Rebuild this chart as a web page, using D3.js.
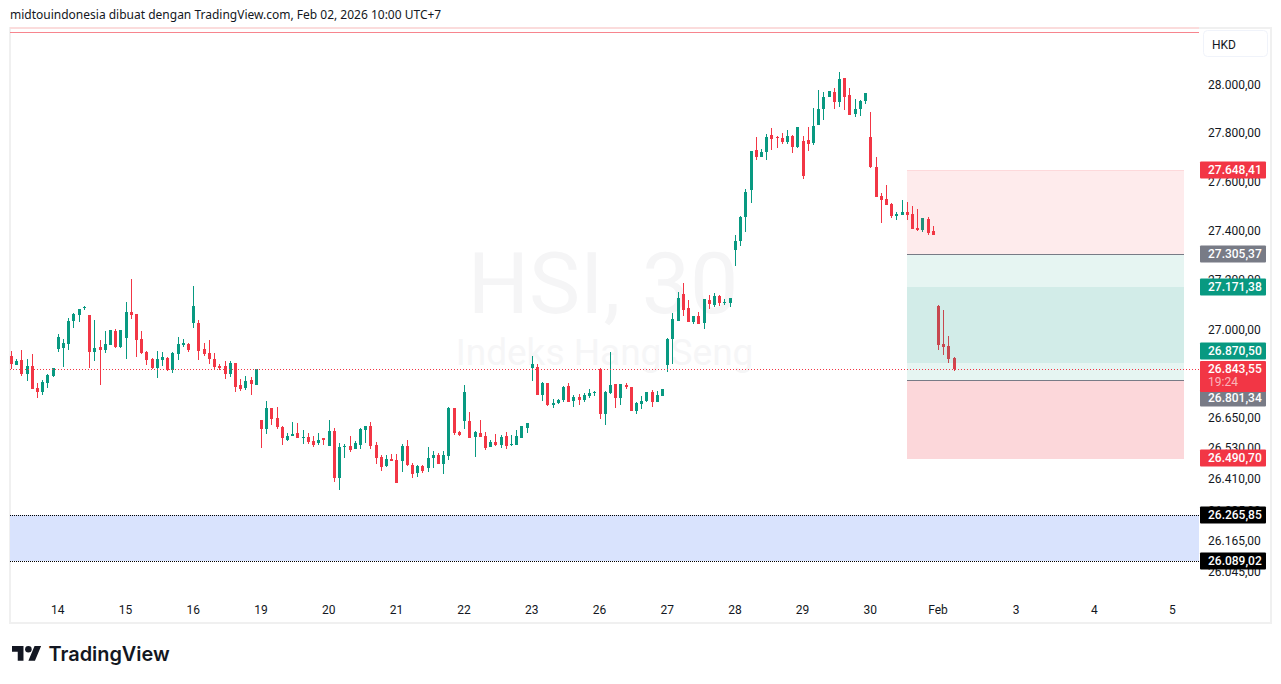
<!DOCTYPE html>
<html><head><meta charset="utf-8">
<script src="https://cdnjs.cloudflare.com/ajax/libs/d3/7.8.5/d3.min.js"></script>
<style>html,body{margin:0;padding:0;background:#fff;overflow:hidden}svg{display:block}text{font-family:Roboto,sans-serif}</style>
</head><body>
<svg id="c" width="1281" height="684"></svg>
<script>
const opens=[26896,26860,26880,26824,26856,26768,26752,26788,26816,26924,
26928,26944,27036,27060,27088,27060,26912,26932,26920,26940,
26996,26932,26968,27072,27064,26964,26912,26884,26848,26880,
26888,26840,26904,26940,26944,27028,27028,26924,26908,26884,
26856,26856,26824,26868,26780,26768,26800,26780,26640,26604,
26688,26648,26612,26564,26576,26588,26568,26572,26560,26552,
26568,26540,26596,26412,26536,26540,26528,26544,26600,26616,
26544,26496,26458,26488,26484,26480,26540,26462,26434,26458,
26450,26492,26504,26466,26500,26688,26592,26636,26636,26572,
26588,26576,26536,26556,26544,26576,26544,26544,26568,26608,
26848,26852,26740,26788,26700,26708,26720,26776,26716,26732,
26720,26736,26748,26844,26664,26748,26784,26728,26780,26772,
26676,26704,26716,26752,26712,26736,26860,26964,27036,27144,
27088,27032,27056,27028,27120,27100,27136,27108,27108,27322,
27359,27457,27567,27731,27702,27723,27793,27784,27780,27764,
27789,27743,27768,27772,27760,27834,27901,27950,27971,27930,
28029,27958,27880,27901,27934,27784,27661,27542,27530,27509,
27461,27465,27477,27469,27412,27404,27448,27400,27096,26944,
26936,26888];
const highs=[26916,26884,26920,26884,26904,26788,26800,26824,26848,26984,
26964,27048,27068,27084,27096,27060,27040,26960,26996,27000,
27004,27000,27112,27204,27064,26996,26916,26888,26916,26912,
26892,26912,26972,26964,26948,27176,27040,26948,26960,26908,
26864,26876,26876,26868,26804,26816,26812,26844,26640,26716,
26688,26692,26616,26588,26632,26628,26600,26588,26576,26588,
26568,26640,26608,26552,26548,26576,26560,26608,26616,26632,
26556,26504,26504,26508,26508,26548,26564,26472,26462,26462,
26536,26520,26512,26520,26692,26688,26596,26780,26672,26596,
26640,26592,26564,26584,26580,26592,26580,26600,26616,26628,
26896,26864,26792,26788,26724,26724,26776,26788,26740,26744,
26748,26764,26756,26848,26756,26912,26784,26784,26788,26772,
26712,26736,26752,26760,26756,26764,26968,27068,27152,27188,
27120,27056,27072,27124,27140,27148,27140,27124,27128,27383,
27461,27571,27727,27784,27735,27797,27822,27789,27801,27814,
27793,27826,27789,27826,27905,27979,27971,27975,27988,28054,
28029,27988,27942,27938,27967,27888,27702,27555,27587,27514,
27477,27526,27518,27501,27489,27452,27456,27420,27100,27080,
26976,26892];
const lows=[26843,26860,26816,26796,26764,26728,26740,26768,26812,26912,
26852,26920,27008,27032,27080,26848,26876,26780,26908,26940,
26928,26928,26884,27044,26892,26904,26860,26844,26808,26856,
26836,26828,26880,26932,26912,27008,26880,26896,26864,26840,
26840,26804,26812,26752,26756,26760,26740,26780,26532,26584,
26620,26604,26544,26560,26576,26568,26548,26548,26536,26544,
26544,26540,26397,26365,26491,26516,26528,26528,26552,26528,
26466,26442,26454,26480,26393,26438,26458,26412,26418,26434,
26438,26450,26466,26430,26484,26580,26576,26604,26568,26496,
26572,26524,26536,26540,26532,26528,26540,26544,26568,26588,
26796,26740,26716,26696,26688,26704,26712,26712,26692,26700,
26712,26728,26736,26644,26620,26744,26688,26700,26764,26676,
26664,26684,26712,26692,26712,26736,26832,26864,27036,27056,
27032,27024,27024,27004,27084,27092,27096,27100,27092,27258,
27339,27396,27514,27690,27702,27690,27731,27739,27756,27756,
27719,27739,27612,27727,27752,27834,27855,27950,27901,27909,
27897,27876,27867,27872,27921,27657,27538,27432,27505,27452,
27444,27465,27444,27408,27400,27396,27383,27383,26920,26900,
26868,26836];
const closes=[26864,26876,26824,26856,26764,26752,26792,26820,26848,26972,
26948,27036,27064,27084,27092,26912,26928,26920,26944,27000,
26932,27000,27072,27060,26960,26908,26880,26848,26884,26892,
26840,26908,26944,26948,26920,27096,26916,26904,26884,26852,
26848,26824,26868,26772,26764,26796,26784,26844,26604,26688,
26644,26612,26568,26576,26584,26568,26572,26556,26544,26564,
26564,26596,26412,26536,26540,26524,26552,26604,26616,26540,
26492,26454,26488,26480,26393,26540,26462,26430,26458,26442,
26492,26504,26466,26504,26688,26588,26580,26752,26568,26592,
26572,26532,26556,26544,26572,26540,26548,26576,26616,26628,
26864,26740,26788,26700,26708,26720,26772,26712,26732,26720,
26740,26748,26752,26664,26752,26780,26728,26784,26772,26676,
26708,26716,26752,26712,26740,26764,26964,27044,27128,27080,
27032,27056,27024,27124,27104,27136,27108,27112,27128,27359,
27457,27559,27727,27702,27723,27784,27776,27780,27764,27789,
27743,27826,27624,27756,27830,27901,27950,27975,27930,28025,
27950,27876,27901,27934,27967,27661,27538,27526,27505,27461,
27469,27477,27465,27408,27404,27452,27392,27383,26940,26932,
26884,26843.55];

const priceTicks=[28000,27800,27600,27400,27200,27000,26650,26530,26410,26285,26165,26045];
const dayBars=[9,22,35,48,61,74,87,100,113,126,139,152,165,178,193,208,223];
const dayLabels=["14","15","16","19","20","21","22","23","26","27","28","29","30","Feb","3","4","5"];
const targetHigh=27648.41, entryHigh=27305.37, innerHigh=27171.38, innerLow=26870.50, entryLow=26801.34, stopLow=26490.70;
const lastPrice=26843.55, blueTop=26265.85, blueBottom=26089.02, topLinePrice=28221;
const boxFromBar=172, boxToBar=225;
const countdown="19:24";

const RED="#f23645", GREEN="#089981", GREY="#787b86", INK="#131722";
const svg=d3.select("#c");
const y=d3.scaleLog().domain([blueBottom,28000]).range([561,85]);
const x=d3.scaleLinear().domain([0,1]).range([11.5,16.708]);
const idLocale=d3.formatLocale({decimal:",",thousands:".",grouping:[3],currency:["",""]});
const fmt=idLocale.format(",.2f");
const bars=opens.map((o,i)=>({i,o,h:highs[i],l:lows[i],c:closes[i]}));
const ry=v=>Math.round(y(v));
const rl=v=>Math.round(y(v)-0.3);

// pane frame
const LEFT=10, RIGHT=1199;
svg.append("rect").attr("x",10).attr("y",28).attr("width",1261).attr("height",595)
  .attr("fill","#fff").attr("stroke","#f0f0f0").attr("stroke-width",2);

// watermark
svg.append("text").attr("x",603).attr("y",313).attr("text-anchor","middle")
  .style("font-size","86px").attr("fill","#f5f5f6").text("HSI, 30");
svg.append("text").attr("x",604.5).attr("y",365).attr("text-anchor","middle")
  .style("font-size","37px").attr("fill","#f6f6f7").text("Indeks Hang Seng");

// top line
svg.append("rect").attr("x",LEFT).attr("width",RIGHT-LEFT).attr("y",27).attr("height",2).attr("fill","#fbdcdc");
svg.append("rect").attr("x",LEFT).attr("width",RIGHT-LEFT).attr("y",ry(topLinePrice)).attr("height",1).attr("fill","#f7858e");

// blue zone
svg.append("rect").attr("x",LEFT).attr("width",RIGHT-LEFT)
  .attr("y",rl(blueTop)).attr("height",rl(blueBottom)-rl(blueTop)).attr("fill","#d9e3fd");

// candles
const g=svg.append("g").selectAll("g").data(bars).join("g")
  .attr("fill",d=>d.c>=d.o?GREEN:RED);
g.append("rect").attr("x",d=>Math.floor(x(d.i))).attr("width",1)
  .attr("y",d=>ry(d.h)).attr("height",d=>Math.max(1,ry(d.l)-ry(d.h)));
g.append("rect").attr("x",d=>Math.floor(x(d.i))-1).attr("width",3)
  .attr("y",d=>ry(Math.max(d.o,d.c))).attr("height",d=>Math.max(1,ry(Math.min(d.o,d.c))-ry(Math.max(d.o,d.c))));

// position boxes over the candles
const bx0=Math.round(x(boxFromBar)), bx1=Math.ceil(x(boxToBar));
function box(a,b,col,op){
  const t=ry(a), bt=Math.ceil(y(b));
  svg.append("rect").attr("x",bx0).attr("width",bx1-bx0).attr("y",t).attr("height",bt-t)
    .attr("fill",col).attr("fill-opacity",op);
}
box(targetHigh,entryHigh,RED,0.1);
box(entryHigh,entryLow,GREEN,0.1);
box(innerHigh,innerLow,GREEN,0.09);
box(entryLow,stopLow,RED,0.2);
svg.append("rect").attr("x",bx0).attr("width",bx1-bx0).attr("y",ry(targetHigh)).attr("height",1).attr("fill",RED).attr("fill-opacity",.1);
[entryHigh,entryLow].forEach(v=>svg.append("rect").attr("x",bx0).attr("width",bx1-bx0).attr("y",ry(v)).attr("height",1).attr("fill",GREY));

// dotted lines
function dotted(v,col,dash){
  const yy=rl(v)+.5;
  svg.append("line").attr("x1",LEFT).attr("x2",RIGHT).attr("y1",yy).attr("y2",yy)
    .attr("stroke",col).attr("stroke-width",1).attr("stroke-dasharray",dash);
}
dotted(lastPrice,RED,"1 2");
dotted(blueTop,"#000","1 1");
dotted(blueBottom,"#000","1 1");

// axes
const ya=svg.append("g").attr("transform","translate(1200,-0.4)")
  .call(d3.axisRight(y).tickValues(priceTicks).tickFormat(fmt).tickSize(0).tickPadding(8));
ya.select(".domain").remove();
ya.selectAll("text").style("font-family","Roboto,sans-serif").style("font-size","12px").attr("fill",INK);
const xa=svg.append("g").attr("transform","translate(-1,602)")
  .call(d3.axisBottom(x).tickValues(dayBars).tickFormat((d,i)=>dayLabels[i]).tickSize(0).tickPadding(3));
xa.select(".domain").remove();
xa.selectAll("text").style("font-family","Roboto,sans-serif").style("font-size","12px").attr("fill",INK);

// price labels
const labels=[
 {v:targetHigh,bg:RED,dy:0},{v:entryHigh,bg:GREY,dy:0},{v:innerHigh,bg:GREEN,dy:0},
 {v:innerLow,bg:GREEN,dy:-11},{v:entryLow,bg:GREY,dy:19},{v:stopLow,bg:RED,dy:0},
 {v:blueTop,bg:"#000",dy:0},{v:blueBottom,bg:"#000",dy:0}];
function label(v,bg,cy,h,textCy){
  svg.append("rect").attr("x",1200).attr("width",66).attr("y",cy-h/2).attr("height",h).attr("rx",1).attr("fill",bg);
  svg.append("text").attr("x",1208).attr("y",textCy).attr("dy","0.35em").attr("fill","#fff")
    .style("font-size","12px").style("font-weight",500).text(fmt(v));
}
labels.forEach(l=>{const c=Math.round(y(l.v)+l.dy-0.3);label(l.v,l.bg,c,17,c);});
label(lastPrice,RED,Math.round(y(lastPrice))+7.5,31,Math.round(y(lastPrice)));
svg.append("text").attr("x",1208).attr("y",Math.round(y(lastPrice))+13).attr("dy","0.35em")
  .attr("fill","#fff").attr("fill-opacity",.65).style("font-size","12px").text(countdown);

// currency chip
svg.append("rect").attr("x",1203.5).attr("y",30.5).attr("width",64).attr("height",26).attr("rx",4)
  .attr("fill","#fff").attr("stroke","#f0f3fa");
svg.append("text").attr("x",1212).attr("y",44.6).attr("dy","0.35em").attr("fill",INK).style("font-size","12px").text("HKD");

// header and brand
svg.append("text").attr("x",10).attr("y",15).attr("dy","0.35em").attr("fill",INK)
  .style("font-family","'Noto Sans'").style("font-size","12px")
  .text("midtouindonesia dibuat dengan TradingView.com, Feb 02, 2026 10:00 UTC+7");
const logo=svg.append("g").attr("transform","translate(12,642.7) scale(0.82)").attr("fill","#131722");
logo.append("path").attr("d","M14 22H7V11H0V4h14v18zM28 22h-8l7.5-18h8L28 22z");
logo.append("circle").attr("cx",20).attr("cy",8).attr("r",4);
svg.append("text").attr("x",48.5).attr("y",661).attr("fill","#131722")
  .style("font-family","Inter").style("font-size","19.9px").style("font-weight",600).text("TradingView");
</script>
</body></html>
